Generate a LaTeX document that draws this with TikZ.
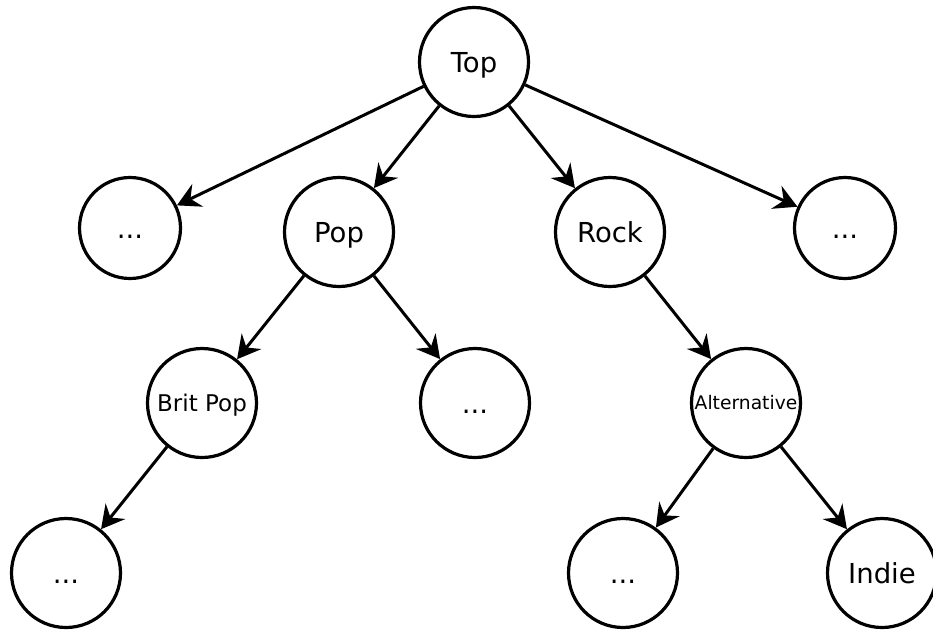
\documentclass[tikz,border=0pt]{standalone}
\usepackage{fontspec}
\setmainfont{DejaVu Sans}
\usetikzlibrary{arrows.meta}
\begin{document}
\begin{tikzpicture}[x=1pt,y=-1pt]
    \tikzstyle{genre}=[draw, shape=circle, line width=3.2pt, minimum size=109pt, inner sep=0pt, text height=20pt, text depth=0pt, font=\fontsize{27.5}{30}\selectfont];
    \tikzstyle{small}=[genre, minimum size=101pt];
    \tikzstyle{link}=[draw, line width=3pt, -{Stealth[length=23pt,width=25pt,inset=8pt]}];
    \useasboundingbox (0,0) rectangle (933,630);
    \node[genre] (top) at (474,62) {Top};
    \node[small] (d1) at (130,228) {...};
    \node[genre] (pop) at (339,232) {Pop};
    \node[genre] (rock) at (610,232) {Rock};
    \node[small] (d2) at (845,228) {...};
    \node[genre, text height=17pt, font=\fontsize{23}{26}\selectfont] (brit) at (202,403) {Brit Pop};
    \node[genre] (d3) at (475,403) {...};
    \node[genre, text height=13.5pt, font=\fontsize{18.7}{21}\selectfont] (alt) at (746,403) {Alternative};
    \node[genre] (d4) at (66,573) {...};
    \node[genre] (d5) at (623,573) {...};
    \node[genre] (indie) at (882,573) {Indie};
    \draw[link] (top)--(d1);
    \draw[link] (top)--(pop);
    \draw[link] (top)--(rock);
    \draw[link] (top)--(d2);
    \draw[link] (pop)--(brit);
    \draw[link] (pop)--(d3);
    \draw[link] (rock)--(alt);
    \draw[link] (brit)--(d4);
    \draw[link] (alt)--(d5);
    \draw[link] (alt)--(indie);
\end{tikzpicture}
\end{document}
